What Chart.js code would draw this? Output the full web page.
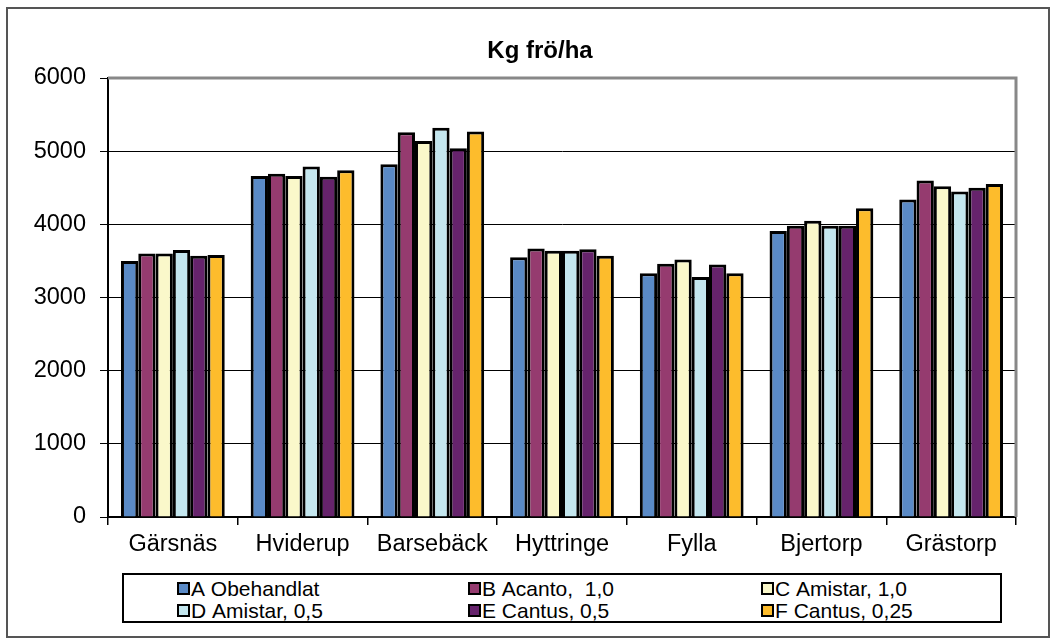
<!DOCTYPE html>
<html>
<head>
<meta charset="utf-8">
<script src="https://cdn.jsdelivr.net/npm/chart.js@4.4.0/dist/chart.umd.min.js"></script>
<style>
  body { margin: 0; background: #fff; }
  #wrap { position: relative; width: 1052px; height: 638px; font-family: "Liberation Sans", Arial, sans-serif; }
  #frame { position: absolute; left: 6px; top: 7px; width: 1040px; height: 627px; border: 2px solid #555; }
  #legend { position: absolute; left: 122px; top: 573px; width: 876px; height: 46px; border: 2px solid #000; background: #fff; }
  .item { position: absolute; font-size: 21px; line-height: 22px; color: #000; white-space: nowrap; }
  .sw { display: inline-block; width: 9px; height: 9px; border: 2.5px solid #000; margin-right: 1px; vertical-align: 1px; }
</style>
</head>
<body>
<div id="wrap">
  <div id="frame"></div>
  <canvas id="chart" width="1052" height="638" style="position:absolute;left:0;top:0"></canvas>
  <div id="legend"></div>
</div>
<script>
// categories and series
const sites = ["Gärsnäs", "Hviderup", "Barsebäck", "Hyttringe", "Fylla", "Bjertorp", "Grästorp"];
const seriesNames = ["A Obehandlat", "B Acanto,  1,0", "C Amistar, 1,0", "D Amistar, 0,5", "E Cantus, 0,5", "F Cantus, 0,25"];
const seriesColors = ["#5a8ac6", "#953b6f", "#faf8ca", "#c4e7ef", "#66236c", "#fdbc2c"];

const valuesA = [3500, 4660, 4820, 3550, 3330, 3910, 4340];
const valuesB = [3600, 4690, 5260, 3670, 3460, 3980, 4600];
const valuesC = [3600, 4660, 5140, 3640, 3520, 4050, 4520];
const valuesD = [3650, 4790, 5320, 3640, 3280, 3980, 4450];
const valuesE = [3570, 4650, 5040, 3660, 3450, 3980, 4500];
const valuesF = [3580, 4740, 5270, 3570, 3330, 4220, 4550];
const allValues = [valuesA, valuesB, valuesC, valuesD, valuesE, valuesF];

const yTicks = [0, 1000, 2000, 3000, 4000, 5000, 6000];

const font = "'Liberation Sans', Arial, sans-serif";

// title + gray top/right plot border
const extras = {
  id: "extras",
  afterDraw(chart) {
    const { ctx, chartArea } = chart;
    ctx.save();
    ctx.strokeStyle = "#888";
    ctx.lineWidth = 3;
    ctx.beginPath();
    ctx.moveTo(chartArea.left, chartArea.top);
    ctx.lineTo(chartArea.right, chartArea.top);
    ctx.lineTo(chartArea.right, chartArea.bottom);
    ctx.stroke();
    ctx.fillStyle = "#000";
    ctx.font = "bold 24px " + font;
    ctx.textAlign = "center";
    ctx.textBaseline = "middle";
    ctx.fillText("Kg frö/ha", 540, 51);
    ctx.restore();
  }
};

new Chart(document.getElementById("chart"), {
  type: "bar",
  data: {
    labels: sites,
    datasets: allValues.map((vals, i) => ({
      label: seriesNames[i],
      data: vals,
      backgroundColor: seriesColors[i],
      borderColor: "#000",
      borderWidth: 3,
      categoryPercentage: 0.8,
      barPercentage: 1.0
    }))
  },
  options: {
    responsive: false,
    animation: false,
    devicePixelRatio: 1,
    layout: { padding: { top: 78, right: 36, left: 0, bottom: 71 } },
    plugins: {
      legend: { display: false },
      title: { display: false },
      tooltip: { enabled: false }
    },
    scales: {
      x: {
        afterFit: (s) => { s.height = 50; },
        grid: { offset: true, drawOnChartArea: false, drawTicks: true, tickLength: 8, color: "#000", lineWidth: 1.5 },
        border: { color: "#000", width: 2 },
        ticks: { color: "#000", font: { family: font, size: 23.5 }, padding: 5 }
      },
      y: {
        min: 0,
        max: 6000,
        afterFit: (s) => { s.width = 108; },
        afterBuildTicks: (s) => { s.ticks = yTicks.map(v => ({ value: v })); },
        grid: { color: "#000", lineWidth: 1, tickLength: 8 },
        border: { color: "#000", width: 2 },
        ticks: { color: "#000", font: { family: font, size: 23.5 }, padding: 14, callback: (v) => String(v) }
      }
    }
  },
  plugins: [extras]
});

// legend box, 3 columns x 2 rows
const legend = document.getElementById("legend");
const colX = [53, 344, 637];
const rowY = [3, 25];
seriesNames.forEach((name, i) => {
  const d = document.createElement("div");
  d.className = "item";
  d.style.left = colX[i % 3] + "px";
  d.style.top = rowY[Math.floor(i / 3)] + "px";
  d.innerHTML = '<span class="sw" style="background:' + seriesColors[i] + '"></span>' + name.replace(/ /g, "&nbsp;");
  legend.appendChild(d);
});
</script>
</body>
</html>
